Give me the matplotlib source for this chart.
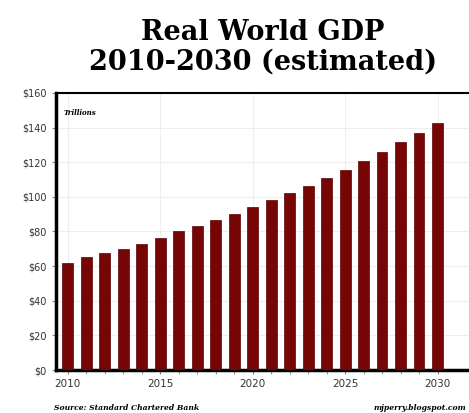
import matplotlib.pyplot as plt
from matplotlib.ticker import FuncFormatter

years = list(range(2010, 2031))
gdp = [62, 65, 67.5, 70, 73, 76.5, 80, 83, 86.5, 90, 94,
       98, 102, 106, 110.6, 115.6, 120.6, 125.8, 131.4, 137, 142.8]
year_labels = [2010, 2015, 2020, 2025, 2030]

fig = plt.figure(figsize=(4.69, 4.13), dpi=100)
ax = fig.add_axes([0.119, 0.104, 0.885, 0.671])

ax.bar(years, gdp, width=0.58, color='#760606', edgecolor='#5a0000', linewidth=0.5, zorder=3)

ax.set_xlim(2009.35, 2031.8)
ax.set_ylim(0, 160)
ax.set_yticks(range(0, 161, 20))
ax.yaxis.set_major_formatter(FuncFormatter(lambda v, p: '$%d' % v))
ax.set_xticks(year_labels)
ax.set_xticks(years, minor=True)
ax.tick_params(axis='y', labelsize=7, length=3, color='#888888', labelcolor='#333333')
ax.tick_params(axis='x', which='both', labelsize=7.5, length=3, color='#888888', labelcolor='#333333')
ax.grid(True, color='#eeeeee', linewidth=0.8, zorder=0)

ax.spines['left'].set_linewidth(2.5)
ax.spines['bottom'].set_linewidth(2.5)
ax.spines['top'].set_linewidth(1.5)
ax.spines['right'].set_visible(False)

ax.text(0.02, 0.92, 'Trillions', transform=ax.transAxes, fontsize=5,
        family='DejaVu Serif', style='italic', fontweight='bold')

fig.text(0.56, 0.955, 'Real World GDP\n2010-2030 (estimated)', ha='center', va='top',
         fontsize=19.5, fontweight='bold', family='DejaVu Serif', linespacing=1.15)
fig.text(0.115, 0.008, 'Source: Standard Chartered Bank', fontsize=5.5,
         family='DejaVu Serif', style='italic', fontweight='bold')
fig.text(0.995, 0.008, 'mjperry.blogspot.com', fontsize=5.5, ha='right',
         family='DejaVu Serif', style='italic', fontweight='bold')

fig.savefig('out.png', dpi=100)
